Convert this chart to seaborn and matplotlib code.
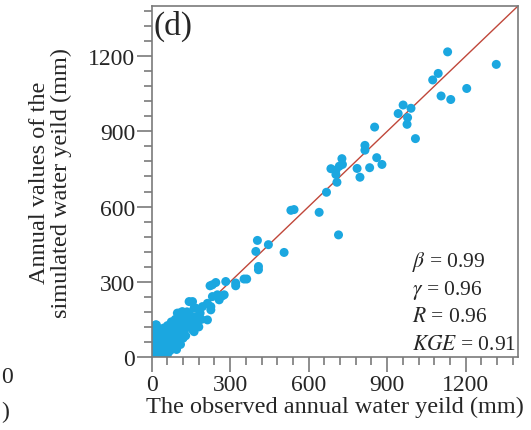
import numpy as np
import pandas as pd
import matplotlib
matplotlib.use("Agg")
import matplotlib.pyplot as plt
import seaborn as sns
from matplotlib.ticker import MultipleLocator

observed = [1131, 1317, 1095, 1074, 1204, 1106, 1143, 961, 991, 942, 978, 976, 1008, 852,
            815, 815, 727, 860, 880, 685, 704, 729, 717, 785, 833, 704, 796, 708, 668, 532,
            544, 640, 714,
            404, 446, 398, 506, 408, 408, 363, 353, 321, 321, 283, 245, 223, 232, 270, 277,
            232, 258, 213, 226, 194, 226, 213, 251, 143, 156, 162, 168, 117, 98, 105, 149,
            162, 143, 105, 54, 34, 15, 18,
            3, 5, 8, 10, 12, 14, 16, 20, 22, 25, 28, 30, 32, 35, 38, 40, 42, 45, 48, 50,
            52, 55, 58, 60, 62, 65, 68, 70, 72, 75, 78, 80, 82, 85, 88, 90, 92, 95, 98, 100,
            102, 105, 110, 112, 115, 118, 120, 125, 128, 130, 135, 138, 140, 145, 150, 155,
            160, 170, 175, 180, 185, 190, 60, 70, 85, 95, 110, 120, 130, 15, 25, 40]
simulated = [1217, 1167, 1131, 1105, 1071, 1041, 1027, 1005, 992, 971, 955, 928, 871, 917,
             844, 825, 791, 795, 768, 751, 745, 768, 761, 752, 755, 728, 717, 697, 657, 585,
             588, 577, 487,
             465, 448, 421, 417, 361, 348, 311, 311, 295, 284, 301, 297, 284, 288, 244, 248,
             241, 228, 214, 201, 201, 188, 148, 248, 221, 221, 195, 195, 181, 175, 175, 135,
             101, 121, 68, 41, 16, 128, 128,
             3, 15, 30, 50, 70, 90, 105, 20, 45, 65, 85, 100, 8, 35, 55, 75, 95, 115, 20, 45,
             65, 85, 105, 125, 30, 55, 80, 100, 120, 140, 40, 65, 90, 110, 130, 150, 55, 80, 105, 125,
             145, 160, 90, 115, 135, 155, 170, 110, 140, 160, 180, 120, 150, 170, 130, 110,
             150, 160, 130, 120, 175, 150, 10, 25, 40, 30, 50, 75, 85, 5, 2, 10]

stat_labels = [r"$\beta$", r"$\gamma$", r"$R$", r"$KGE$"]
stat_values = ["0.99", "0.96", "0.96", "0.91"]

df = pd.DataFrame({"obs": observed, "sim": simulated})

sns.set_style("ticks")
plt.rcParams["font.family"] = ["Liberation Serif", "DejaVu Serif"]
plt.rcParams["mathtext.fontset"] = "stix"

fig = plt.figure(figsize=(5.31, 4.31), dpi=100)
ax = fig.add_axes([0.2857, 0.1694, 0.9755 - 0.2857, 0.9838 - 0.1694])

ax.plot([0, 1400], [0, 1400], color="#C0473A", lw=1.0, zorder=1)
sns.scatterplot(data=df, x="obs", y="sim", ax=ax, color="#1BA7E0", s=42,
                edgecolor="none", linewidth=0, zorder=2)

ax.set_xlim(0, 1400)
ax.set_ylim(0, 1400)
ax.xaxis.set_major_locator(MultipleLocator(300))
ax.yaxis.set_major_locator(MultipleLocator(300))
ax.xaxis.set_minor_locator(MultipleLocator(60))
ax.yaxis.set_minor_locator(MultipleLocator(60))

for s in ax.spines.values():
    s.set_color("#7a7a7a")
    s.set_linewidth(1.2)
ax.tick_params(which="major", length=11, width=1.2, color="#7a7a7a",
               labelsize=17, pad=1, direction="out")
ax.tick_params(which="minor", length=6, width=1.2, color="#7a7a7a", direction="out")

ax.set_xlabel("The observed annual water yeild (mm)", fontsize=17.5, labelpad=1)
ax.set_ylabel("")
fig.text(0.095, 0.575, "Annual values of the\nsimulated water yeild (mm)",
         rotation=90, ha="center", va="center", fontsize=17.5, linespacing=1.0)

ax.text(0.004, 0.99, "(d)", transform=ax.transAxes, ha="left", va="top", fontsize=24)

ys = [262, 290, 318, 345]
for lab, val, yp in zip(stat_labels, stat_values, ys):
    fig.text(412 / 531, 1 - yp / 431, f"{lab} = {val}", ha="left", va="center",
             fontsize=15.5)

fig.text(0.003, 1 - 378 / 431, "0", ha="left", va="center", fontsize=17)
fig.text(0.003, 1 - 412 / 431, ")", ha="left", va="center", fontsize=17)

fig.savefig("out.png", dpi=100)
